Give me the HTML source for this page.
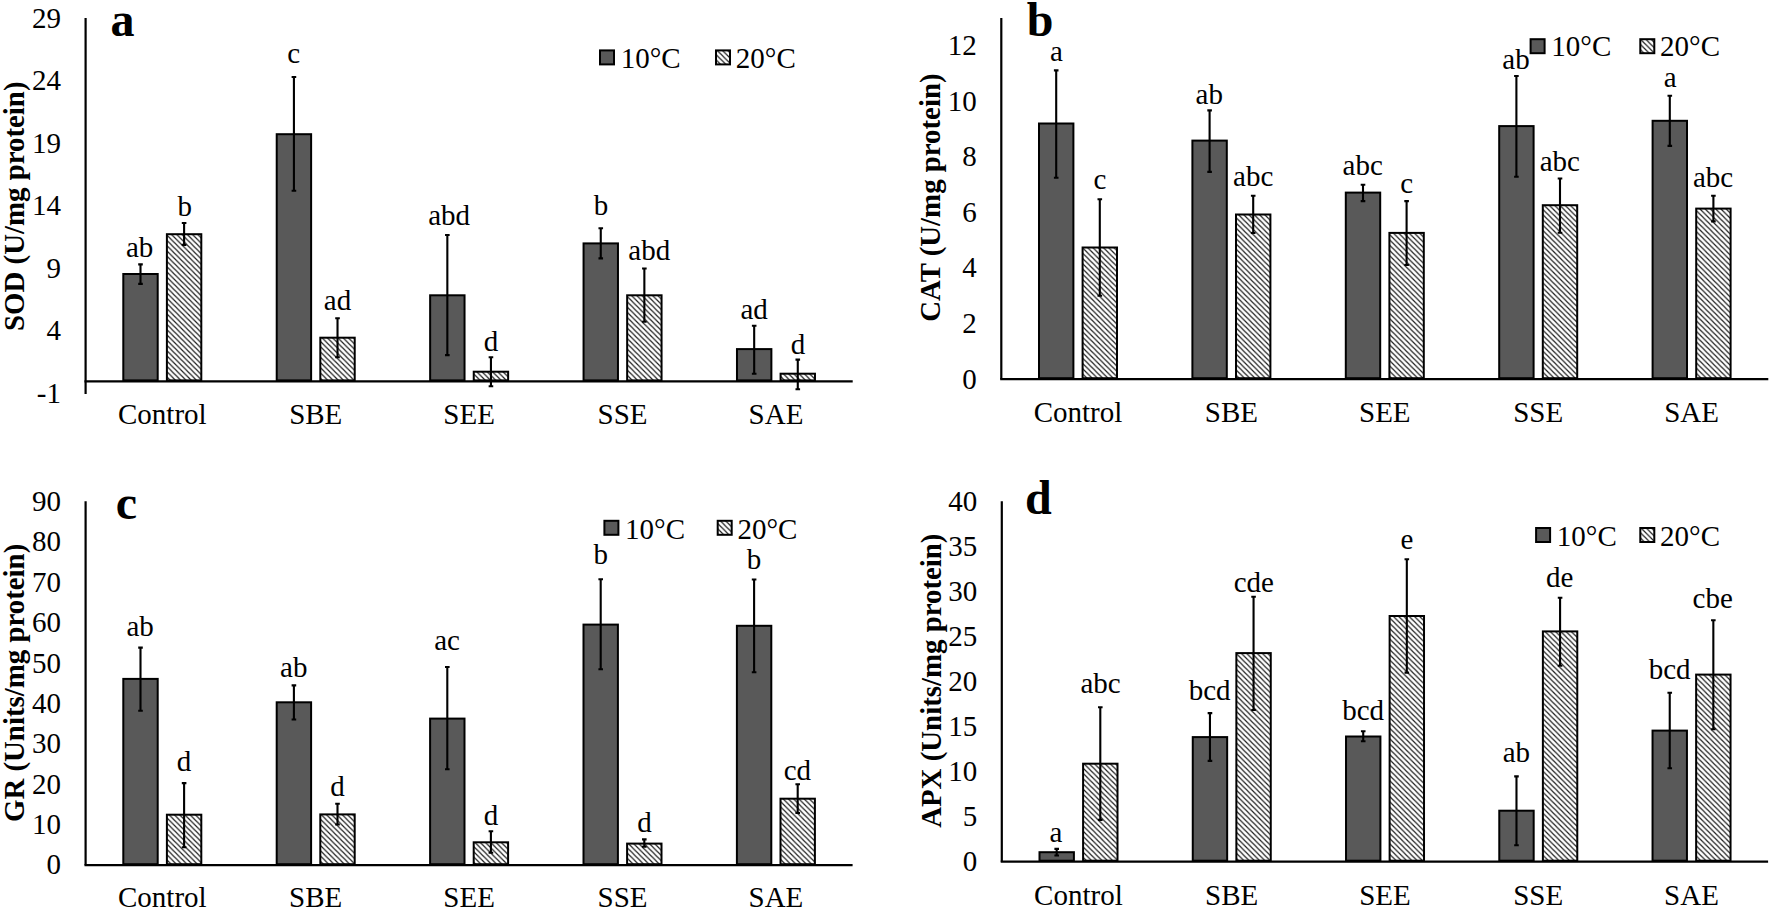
<!DOCTYPE html>
<html><head><meta charset="utf-8"><title>Antioxidant enzyme activities</title>
<style>
html,body{margin:0;padding:0;background:#fff;}
body{width:1770px;height:912px;overflow:hidden;}
svg{display:block;}
.t{font-family:"Liberation Serif","Times New Roman",serif;font-size:29.0px;fill:#000;}
.m{text-anchor:middle;}
.e{text-anchor:end;}
.b{font-family:"Liberation Serif","Times New Roman",serif;font-size:28.85px;font-weight:bold;fill:#000;}
.pl{font-family:"Liberation Serif","Times New Roman",serif;font-size:48px;font-weight:bold;fill:#000;}
</style></head>
<body>
<svg width="1770" height="912" viewBox="0 0 1770 912">
<defs>
<pattern id="hatch" patternUnits="userSpaceOnUse" width="5.25" height="5.25">
<path d="M-1.31 3.94L1.31 6.56M0 0L5.25 5.25M3.94 -1.31L6.56 1.31" stroke="#1a1a1a" stroke-width="1.2"/>
</pattern>
</defs>
<rect width="1770" height="912" fill="#fff"/>
<g id="panel-a">
<rect x="123.3" y="274" width="34.4" height="106.4" fill="#595959" stroke="#000" stroke-width="2"/>
<rect x="166.9" y="234.2" width="34.4" height="146.2" fill="url(#hatch)" stroke="#000" stroke-width="2"/>
<path d="M140.5 264.4V283.9M138.2 264.4H142.8M138.2 283.9H142.8" stroke="#000" stroke-width="2.1" fill="none"/>
<path d="M184.1 223V244.9M181.8 223H186.4M181.8 244.9H186.4" stroke="#000" stroke-width="2.1" fill="none"/>
<text x="139.7" y="256.7" class="t m">ab</text>
<text x="184.7" y="216" class="t m">b</text>
<text x="162.31" y="424" class="t m">Control</text>
<rect x="276.72" y="134.2" width="34.4" height="246.2" fill="#595959" stroke="#000" stroke-width="2"/>
<rect x="320.32" y="337.7" width="34.4" height="42.7" fill="url(#hatch)" stroke="#000" stroke-width="2"/>
<path d="M293.92 77V190.8M291.62 77H296.22M291.62 190.8H296.22" stroke="#000" stroke-width="2.1" fill="none"/>
<path d="M337.52 318.2V357.2M335.22 318.2H339.82M335.22 357.2H339.82" stroke="#000" stroke-width="2.1" fill="none"/>
<text x="293.6" y="62.6" class="t m">c</text>
<text x="337.5" y="310.2" class="t m">ad</text>
<text x="315.73" y="424" class="t m">SBE</text>
<rect x="430.14" y="295.3" width="34.4" height="85.1" fill="#595959" stroke="#000" stroke-width="2"/>
<rect x="473.74" y="371.7" width="34.4" height="8.7" fill="url(#hatch)" stroke="#000" stroke-width="2"/>
<path d="M447.34 235V355.1M445.04 235H449.64M445.04 355.1H449.64" stroke="#000" stroke-width="2.1" fill="none"/>
<path d="M490.94 357.2V386.2M488.64 357.2H493.24M488.64 386.2H493.24" stroke="#000" stroke-width="2.1" fill="none"/>
<text x="449.2" y="224.6" class="t m">abd</text>
<text x="491" y="351.2" class="t m">d</text>
<text x="469.15" y="424" class="t m">SEE</text>
<rect x="583.56" y="243.4" width="34.4" height="137" fill="#595959" stroke="#000" stroke-width="2"/>
<rect x="627.16" y="295.3" width="34.4" height="85.1" fill="url(#hatch)" stroke="#000" stroke-width="2"/>
<path d="M600.76 228.2V258.4M598.46 228.2H603.06M598.46 258.4H603.06" stroke="#000" stroke-width="2.1" fill="none"/>
<path d="M644.36 268.5V321.8M642.06 268.5H646.66M642.06 321.8H646.66" stroke="#000" stroke-width="2.1" fill="none"/>
<text x="600.9" y="215" class="t m">b</text>
<text x="649.3" y="260.3" class="t m">abd</text>
<text x="622.57" y="424" class="t m">SSE</text>
<rect x="736.98" y="349.1" width="34.4" height="31.3" fill="#595959" stroke="#000" stroke-width="2"/>
<rect x="780.58" y="373.7" width="34.4" height="6.7" fill="url(#hatch)" stroke="#000" stroke-width="2"/>
<path d="M754.18 325.8V373.7M751.88 325.8H756.48M751.88 373.7H756.48" stroke="#000" stroke-width="2.1" fill="none"/>
<path d="M797.78 359.6V389.3M795.48 359.6H800.08M795.48 389.3H800.08" stroke="#000" stroke-width="2.1" fill="none"/>
<text x="754.1" y="319.2" class="t m">ad</text>
<text x="797.9" y="354" class="t m">d</text>
<text x="775.99" y="424" class="t m">SAE</text>
<path d="M85.6 18.1V394" stroke="#000" stroke-width="2.2" fill="none"/>
<path d="M84.5 381.4H852.7" stroke="#000" stroke-width="2.2" fill="none"/>
<text x="61" y="402.8" class="t e">-1</text>
<text x="61" y="340.3" class="t e">4</text>
<text x="61" y="277.8" class="t e">9</text>
<text x="61" y="215.3" class="t e">14</text>
<text x="61" y="152.8" class="t e">19</text>
<text x="61" y="90.3" class="t e">24</text>
<text x="61" y="27.8" class="t e">29</text>
<text transform="translate(23.6 206.2) rotate(-90)" class="b m">SOD (U/mg protein)</text>
<text x="110.5" y="36" class="pl">a</text>
<rect x="600" y="50.4" width="14" height="14" fill="#595959" stroke="#000" stroke-width="2"/>
<text x="620.7" y="68.1" class="t">10°C</text>
<rect x="716" y="50.4" width="14" height="14" fill="url(#hatch)" stroke="#000" stroke-width="2"/>
<text x="735.8" y="68.1" class="t">20°C</text>
</g>
<g id="panel-b">
<rect x="1039" y="123.5" width="34.4" height="254.7" fill="#595959" stroke="#000" stroke-width="2"/>
<rect x="1082.6" y="247.5" width="34.4" height="130.7" fill="url(#hatch)" stroke="#000" stroke-width="2"/>
<path d="M1056.2 70.4V177.7M1053.9 70.4H1058.5M1053.9 177.7H1058.5" stroke="#000" stroke-width="2.1" fill="none"/>
<path d="M1099.8 199.3V295.8M1097.5 199.3H1102.1M1097.5 295.8H1102.1" stroke="#000" stroke-width="2.1" fill="none"/>
<text x="1056.4" y="61.3" class="t m">a</text>
<text x="1099.9" y="188.6" class="t m">c</text>
<text x="1078" y="422.4" class="t m">Control</text>
<rect x="1192.4" y="140.6" width="34.4" height="237.6" fill="#595959" stroke="#000" stroke-width="2"/>
<rect x="1236" y="214.5" width="34.4" height="163.7" fill="url(#hatch)" stroke="#000" stroke-width="2"/>
<path d="M1209.6 110.4V171.9M1207.3 110.4H1211.9M1207.3 171.9H1211.9" stroke="#000" stroke-width="2.1" fill="none"/>
<path d="M1253.2 195.8V233M1250.9 195.8H1255.5M1250.9 233H1255.5" stroke="#000" stroke-width="2.1" fill="none"/>
<text x="1209.3" y="103.9" class="t m">ab</text>
<text x="1253.2" y="185.9" class="t m">abc</text>
<text x="1231.4" y="422.4" class="t m">SBE</text>
<rect x="1345.8" y="192.6" width="34.4" height="185.6" fill="#595959" stroke="#000" stroke-width="2"/>
<rect x="1389.4" y="232.9" width="34.4" height="145.3" fill="url(#hatch)" stroke="#000" stroke-width="2"/>
<path d="M1363 184.7V201.1M1360.7 184.7H1365.3M1360.7 201.1H1365.3" stroke="#000" stroke-width="2.1" fill="none"/>
<path d="M1406.6 201.1V265M1404.3 201.1H1408.9M1404.3 265H1408.9" stroke="#000" stroke-width="2.1" fill="none"/>
<text x="1362.7" y="175" class="t m">abc</text>
<text x="1406.7" y="192.6" class="t m">c</text>
<text x="1384.8" y="422.4" class="t m">SEE</text>
<rect x="1499.2" y="126.1" width="34.4" height="252.1" fill="#595959" stroke="#000" stroke-width="2"/>
<rect x="1542.8" y="205.2" width="34.4" height="173" fill="url(#hatch)" stroke="#000" stroke-width="2"/>
<path d="M1516.4 76V176.8M1514.1 76H1518.7M1514.1 176.8H1518.7" stroke="#000" stroke-width="2.1" fill="none"/>
<path d="M1560 178.5V232.7M1557.7 178.5H1562.3M1557.7 232.7H1562.3" stroke="#000" stroke-width="2.1" fill="none"/>
<text x="1516" y="68.7" class="t m">ab</text>
<text x="1559.8" y="170.5" class="t m">abc</text>
<text x="1538.2" y="422.4" class="t m">SSE</text>
<rect x="1652.6" y="120.8" width="34.4" height="257.4" fill="#595959" stroke="#000" stroke-width="2"/>
<rect x="1696.2" y="208.6" width="34.4" height="169.6" fill="url(#hatch)" stroke="#000" stroke-width="2"/>
<path d="M1669.8 95.7V145.9M1667.5 95.7H1672.1M1667.5 145.9H1672.1" stroke="#000" stroke-width="2.1" fill="none"/>
<path d="M1713.4 195.8V221.4M1711.1 195.8H1715.7M1711.1 221.4H1715.7" stroke="#000" stroke-width="2.1" fill="none"/>
<text x="1670.2" y="86.8" class="t m">a</text>
<text x="1713.1" y="186.9" class="t m">abc</text>
<text x="1691.6" y="422.4" class="t m">SAE</text>
<path d="M1001.3 18.1V379.2" stroke="#000" stroke-width="2.2" fill="none"/>
<path d="M1000.2 379.2H1768.3" stroke="#000" stroke-width="2.2" fill="none"/>
<text x="976.7" y="388.6" class="t e">0</text>
<text x="976.7" y="333" class="t e">2</text>
<text x="976.7" y="277.4" class="t e">4</text>
<text x="976.7" y="221.8" class="t e">6</text>
<text x="976.7" y="166.2" class="t e">8</text>
<text x="976.7" y="110.6" class="t e">10</text>
<text x="976.7" y="55" class="t e">12</text>
<text transform="translate(940 197.6) rotate(-90)" class="b m">CAT (U/mg protein)</text>
<text x="1026.8" y="36" class="pl">b</text>
<rect x="1530.6" y="39.2" width="14" height="14" fill="#595959" stroke="#000" stroke-width="2"/>
<text x="1551.3" y="56.1" class="t">10°C</text>
<rect x="1640.3" y="39.2" width="14" height="14" fill="url(#hatch)" stroke="#000" stroke-width="2"/>
<text x="1660.1" y="56.1" class="t">20°C</text>
</g>
<g id="panel-c">
<rect x="123.3" y="678.9" width="34.4" height="185.3" fill="#595959" stroke="#000" stroke-width="2"/>
<rect x="166.9" y="814.7" width="34.4" height="49.5" fill="url(#hatch)" stroke="#000" stroke-width="2"/>
<path d="M140.5 647.6V710.7M138.2 647.6H142.8M138.2 710.7H142.8" stroke="#000" stroke-width="2.1" fill="none"/>
<path d="M184.1 783.1V847.2M181.8 783.1H186.4M181.8 847.2H186.4" stroke="#000" stroke-width="2.1" fill="none"/>
<text x="140.1" y="635.6" class="t m">ab</text>
<text x="183.9" y="770.5" class="t m">d</text>
<text x="162.3" y="907.4" class="t m">Control</text>
<rect x="276.7" y="702.3" width="34.4" height="161.9" fill="#595959" stroke="#000" stroke-width="2"/>
<rect x="320.3" y="814.4" width="34.4" height="49.8" fill="url(#hatch)" stroke="#000" stroke-width="2"/>
<path d="M293.9 685.4V719.5M291.6 685.4H296.2M291.6 719.5H296.2" stroke="#000" stroke-width="2.1" fill="none"/>
<path d="M337.5 803.7V824.5M335.2 803.7H339.8M335.2 824.5H339.8" stroke="#000" stroke-width="2.1" fill="none"/>
<text x="293.8" y="676.5" class="t m">ab</text>
<text x="337.5" y="796" class="t m">d</text>
<text x="315.7" y="907.4" class="t m">SBE</text>
<rect x="430.1" y="718.6" width="34.4" height="145.6" fill="#595959" stroke="#000" stroke-width="2"/>
<rect x="473.7" y="842.3" width="34.4" height="21.9" fill="url(#hatch)" stroke="#000" stroke-width="2"/>
<path d="M447.3 667V769.3M445 667H449.6M445 769.3H449.6" stroke="#000" stroke-width="2.1" fill="none"/>
<path d="M490.9 831.3V852.8M488.6 831.3H493.2M488.6 852.8H493.2" stroke="#000" stroke-width="2.1" fill="none"/>
<text x="447.1" y="649.5" class="t m">ac</text>
<text x="491" y="824.5" class="t m">d</text>
<text x="469.1" y="907.4" class="t m">SEE</text>
<rect x="583.5" y="624.6" width="34.4" height="239.6" fill="#595959" stroke="#000" stroke-width="2"/>
<rect x="627.1" y="843.6" width="34.4" height="20.6" fill="url(#hatch)" stroke="#000" stroke-width="2"/>
<path d="M600.7 579.3V669.2M598.4 579.3H603M598.4 669.2H603" stroke="#000" stroke-width="2.1" fill="none"/>
<path d="M644.3 839.4V846.7M642 839.4H646.6M642 846.7H646.6" stroke="#000" stroke-width="2.1" fill="none"/>
<text x="600.8" y="563.6" class="t m">b</text>
<text x="644.5" y="832" class="t m">d</text>
<text x="622.5" y="907.4" class="t m">SSE</text>
<rect x="736.9" y="625.8" width="34.4" height="238.4" fill="#595959" stroke="#000" stroke-width="2"/>
<rect x="780.5" y="798.7" width="34.4" height="65.5" fill="url(#hatch)" stroke="#000" stroke-width="2"/>
<path d="M754.1 579.5V672.3M751.8 579.5H756.4M751.8 672.3H756.4" stroke="#000" stroke-width="2.1" fill="none"/>
<path d="M797.7 784.2V813M795.4 784.2H800M795.4 813H800" stroke="#000" stroke-width="2.1" fill="none"/>
<text x="753.9" y="569.1" class="t m">b</text>
<text x="797.4" y="779.8" class="t m">cd</text>
<text x="775.9" y="907.4" class="t m">SAE</text>
<path d="M85.6 501.3V865.2" stroke="#000" stroke-width="2.2" fill="none"/>
<path d="M84.5 865.2H852.6" stroke="#000" stroke-width="2.2" fill="none"/>
<text x="61" y="874.2" class="t e">0</text>
<text x="61" y="833.86" class="t e">10</text>
<text x="61" y="793.52" class="t e">20</text>
<text x="61" y="753.18" class="t e">30</text>
<text x="61" y="712.84" class="t e">40</text>
<text x="61" y="672.5" class="t e">50</text>
<text x="61" y="632.16" class="t e">60</text>
<text x="61" y="591.82" class="t e">70</text>
<text x="61" y="551.48" class="t e">80</text>
<text x="61" y="511.14" class="t e">90</text>
<text transform="translate(23.6 682.9) rotate(-90)" class="b m">GR (Units/mg protein)</text>
<text x="115.8" y="519.2" class="pl">c</text>
<rect x="604.4" y="520.8" width="14" height="14" fill="#595959" stroke="#000" stroke-width="2"/>
<text x="625.1" y="538.8" class="t">10°C</text>
<rect x="717.7" y="520.8" width="14" height="14" fill="url(#hatch)" stroke="#000" stroke-width="2"/>
<text x="737.5" y="538.8" class="t">20°C</text>
</g>
<g id="panel-d">
<rect x="1039.5" y="852.2" width="34.4" height="8.5" fill="#595959" stroke="#000" stroke-width="2"/>
<rect x="1083.1" y="763.7" width="34.4" height="97" fill="url(#hatch)" stroke="#000" stroke-width="2"/>
<path d="M1056.7 848.9V855.5M1054.4 848.9H1059M1054.4 855.5H1059" stroke="#000" stroke-width="2.1" fill="none"/>
<path d="M1100.3 707.2V819.9M1098 707.2H1102.6M1098 819.9H1102.6" stroke="#000" stroke-width="2.1" fill="none"/>
<text x="1056" y="842" class="t m">a</text>
<text x="1100.6" y="692.7" class="t m">abc</text>
<text x="1078.43" y="904.5" class="t m">Control</text>
<rect x="1192.76" y="737.1" width="34.4" height="123.6" fill="#595959" stroke="#000" stroke-width="2"/>
<rect x="1236.36" y="653.1" width="34.4" height="207.6" fill="url(#hatch)" stroke="#000" stroke-width="2"/>
<path d="M1209.96 713.1V760.9M1207.66 713.1H1212.26M1207.66 760.9H1212.26" stroke="#000" stroke-width="2.1" fill="none"/>
<path d="M1253.56 596.7V710M1251.26 596.7H1255.86M1251.26 710H1255.86" stroke="#000" stroke-width="2.1" fill="none"/>
<text x="1209.6" y="700.1" class="t m">bcd</text>
<text x="1253.8" y="592.3" class="t m">cde</text>
<text x="1231.69" y="904.5" class="t m">SBE</text>
<rect x="1346.02" y="736.5" width="34.4" height="124.2" fill="#595959" stroke="#000" stroke-width="2"/>
<rect x="1389.62" y="616" width="34.4" height="244.7" fill="url(#hatch)" stroke="#000" stroke-width="2"/>
<path d="M1363.22 731.2V741.2M1360.92 731.2H1365.52M1360.92 741.2H1365.52" stroke="#000" stroke-width="2.1" fill="none"/>
<path d="M1406.82 559.3V672.6M1404.52 559.3H1409.12M1404.52 672.6H1409.12" stroke="#000" stroke-width="2.1" fill="none"/>
<text x="1363.2" y="720.1" class="t m">bcd</text>
<text x="1407" y="548.9" class="t m">e</text>
<text x="1384.95" y="904.5" class="t m">SEE</text>
<rect x="1499.28" y="810.7" width="34.4" height="50" fill="#595959" stroke="#000" stroke-width="2"/>
<rect x="1542.88" y="631.4" width="34.4" height="229.3" fill="url(#hatch)" stroke="#000" stroke-width="2"/>
<path d="M1516.48 776.4V845.3M1514.18 776.4H1518.78M1514.18 845.3H1518.78" stroke="#000" stroke-width="2.1" fill="none"/>
<path d="M1560.08 597.7V665.7M1557.78 597.7H1562.38M1557.78 665.7H1562.38" stroke="#000" stroke-width="2.1" fill="none"/>
<text x="1516.4" y="761.9" class="t m">ab</text>
<text x="1559.6" y="587.3" class="t m">de</text>
<text x="1538.21" y="904.5" class="t m">SSE</text>
<rect x="1652.54" y="730.6" width="34.4" height="130.1" fill="#595959" stroke="#000" stroke-width="2"/>
<rect x="1696.14" y="674.6" width="34.4" height="186.1" fill="url(#hatch)" stroke="#000" stroke-width="2"/>
<path d="M1669.74 692.7V768.3M1667.44 692.7H1672.04M1667.44 768.3H1672.04" stroke="#000" stroke-width="2.1" fill="none"/>
<path d="M1713.34 620.2V729.3M1711.04 620.2H1715.64M1711.04 729.3H1715.64" stroke="#000" stroke-width="2.1" fill="none"/>
<text x="1669.7" y="678.9" class="t m">bcd</text>
<text x="1712.7" y="607.7" class="t m">cbe</text>
<text x="1691.47" y="904.5" class="t m">SAE</text>
<path d="M1001.8 501.3V861.7" stroke="#000" stroke-width="2.2" fill="none"/>
<path d="M1000.7 861.7H1768.1" stroke="#000" stroke-width="2.2" fill="none"/>
<text x="977.2" y="871" class="t e">0</text>
<text x="977.2" y="826" class="t e">5</text>
<text x="977.2" y="781" class="t e">10</text>
<text x="977.2" y="736" class="t e">15</text>
<text x="977.2" y="691" class="t e">20</text>
<text x="977.2" y="646" class="t e">25</text>
<text x="977.2" y="601" class="t e">30</text>
<text x="977.2" y="556" class="t e">35</text>
<text x="977.2" y="511" class="t e">40</text>
<text transform="translate(940.5 680.7) rotate(-90)" class="b m">APX (Units/mg protein)</text>
<text x="1024.9" y="514.4" class="pl">d</text>
<rect x="1536.1" y="528" width="14" height="14" fill="#595959" stroke="#000" stroke-width="2"/>
<text x="1556.8" y="545.8" class="t">10°C</text>
<rect x="1640.3" y="528" width="14" height="14" fill="url(#hatch)" stroke="#000" stroke-width="2"/>
<text x="1660.1" y="545.8" class="t">20°C</text>
</g>
</svg>
</body></html>
